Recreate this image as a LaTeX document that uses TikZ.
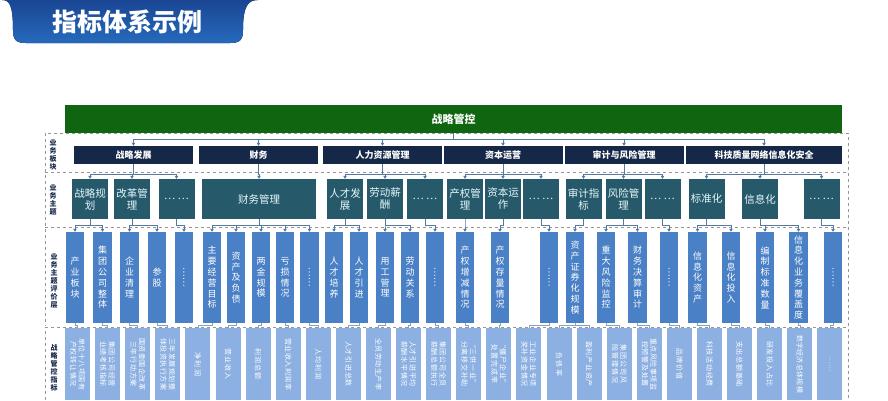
\documentclass[tikz,border=0pt]{standalone}
\usepackage{fontspec}
\setmainfont{Noto Sans CJK SC}
\usepackage{graphicx}
\usetikzlibrary{arrows.meta}
\XeTeXlinebreaklocale "zh"
\XeTeXlinebreakskip=0pt plus 1pt
\definecolor{bannertop}{RGB}{26,70,148}
\definecolor{bannerbot}{RGB}{38,106,188}
\definecolor{ctrlgreen}{RGB}{16,102,16}
\definecolor{sectnavy}{RGB}{22,40,72}
\definecolor{themeteal}{RGB}{38,90,106}
\definecolor{judgeblue}{RGB}{74,128,198}
\definecolor{metricblue}{RGB}{140,176,226}
\definecolor{linkblue}{RGB}{84,122,160}
\definecolor{framegray}{RGB}{150,150,150}
\begin{document}
\begin{tikzpicture}[x=1pt,y=-1pt,
    sector/.style={fill=sectnavy,text=white,minimum width=119,minimum height=18,
      inner sep=0,font=\fontsize{9}{10}\selectfont\bfseries},
    theme/.style={fill=themeteal,text=white!90!cyan,minimum width=36,minimum height=40,
      inner sep=0,align=center,font=\fontsize{10.5}{12}\selectfont},
    judge/.style={fill=judgeblue,text=white,minimum width=18.5,minimum height=91,
      inner sep=0,align=center,font=\fontsize{9}{10.8}\selectfont},
    metric/.style={fill=metricblue,text=white,rotate=-90,minimum width=72,minimum height=25,
      inner sep=0,text width=66,align=center,font=\fontsize{7}{8.5}\selectfont},
    rowlabel/.style={inner sep=0,align=center,text=sectnavy,
      font=\fontsize{7}{8}\selectfont\bfseries},
    frame/.style={draw=framegray,dashed,line width=0.6pt},
    split/.style={draw=framegray,dashed,line width=0.5pt,double=white,double distance=1pt},
    link/.style={draw=linkblue,line width=0.8pt,-{Triangle[length=3pt,width=3.5pt]}},
    tie/.style={draw=linkblue!70,line width=0.5pt}]
  \useasboundingbox (0,0) rectangle (888,400);
  \clip (0,0) rectangle (888,400);

  % title banner
  \fill[top color=bannertop,bottom color=bannerbot]
    (2,0) .. controls (9,0) and (13,4) .. (13,30)
    .. controls (13,40) and (16,43) .. (26,43) -- (230,43)
    .. controls (240,43) and (243,40) .. (243,30)
    .. controls (243,6) and (248,0) .. (258,0) -- cycle;
  \node[text=white,font=\fontsize{25}{25}\selectfont\bfseries] (title) at (127,22) {指标体系示例};

  % dashed frame and row splits
  \draw[frame] (45,133) rectangle (848,440);
  \draw[split] (45,173) -- (848,173);
  \draw[split] (45,228) -- (848,228);
  \draw[split] (45,326.5) -- (848,326.5);

  \node[rowlabel] (lab1) at (53,155) {业\\务\\板\\块};
  \node[rowlabel] (lab2) at (53,200) {业\\务\\主\\题};
  \node[rowlabel] (lab3) at (54,281) {业\\务\\主\\题\\评\\价\\层};
  \node[rowlabel] (lab4) at (54,368) {战\\略\\管\\控\\指\\标};

  % top
  \node[fill=ctrlgreen,text=white,minimum width=777,minimum height=28,inner sep=0,
    font=\fontsize{11}{12}\selectfont\bfseries] (ctrl) at (453.5,119) {战略管控};

  % business sectors
  \node[sector] (b1) at (133.5,155) {战略发展};
  \node[sector] (b2) at (258.5,155) {财务};
  \node[sector] (b3) at (382.5,155) {人力资源管理};
  \node[sector] (b4) at (503,155) {资本运营};
  \node[sector] (b5) at (624,155) {审计与风险管理};
  \node[sector,minimum width=156] (b6) at (764,155) {科技质量网络信息化安全};

  % business themes
  \node[theme] (t1) at (90,199) {战略规\\划};
  \node[theme] (t2) at (132,199) {改革管\\理};
  \node[theme] (t3) at (176.5,199) {… …};
  \node[theme,minimum width=114] (t4) at (259,199) {财务管理};
  \node[theme] (t5) at (345,199) {人才发\\展};
  \node[theme] (t6) at (385,199) {劳动薪\\酬};
  \node[theme] (t7) at (425,199) {… …};
  \node[theme] (t8) at (465,199) {产权管\\理};
  \node[theme] (t9) at (503,199) {资本运\\作};
  \node[theme] (t10) at (541,199) {… …};
  \node[theme] (t11) at (583.5,199) {审计指\\标};
  \node[theme] (t12) at (623.5,199) {风险管\\理};
  \node[theme] (t13) at (662.5,199) {… …};
  \node[theme] (t14) at (706.5,199) {标准化};
  \node[theme] (t15) at (760,199) {信息化};
  \node[theme] (t16) at (821.5,199) {… …};

  % evaluation layer
  \node[judge] (e1) at (75,277.5) {产\\业\\板\\块};
  \node[judge] (e2) at (102.5,277.5) {集\\团\\公\\司\\整\\体};
  \node[judge] (e3) at (129.5,277.5) {企\\业\\清\\理};
  \node[judge] (e4) at (157,277.5) {参\\股};
  \node[judge] (e5) at (184,277.5) {\rotatebox{-90}{……}};
  \node[judge] (e6) at (212,277.5) {主\\要\\经\\营\\目\\标};
  \node[judge] (e7) at (236,277.5) {资\\产\\及\\负\\债};
  \node[judge] (e8) at (261,277.5) {两\\金\\规\\模};
  \node[judge] (e9) at (285,277.5) {亏\\损\\情\\况};
  \node[judge] (e10) at (309.5,277.5) {\rotatebox{-90}{……}};
  \node[judge] (e11) at (334,277.5) {人\\才\\培\\养};
  \node[judge] (e12) at (359,277.5) {人\\才\\引\\进};
  \node[judge] (e13) at (385,277.5) {用\\工\\管\\理};
  \node[judge] (e14) at (410,277.5) {劳\\动\\关\\系};
  \node[judge] (e15) at (435,277.5) {\rotatebox{-90}{……}};
  \node[judge] (e16) at (465,277.5) {产\\权\\增\\减\\情\\况};
  \node[judge] (e17) at (500,277.5) {产\\权\\存\\量\\情\\况};
  \node[judge] (e18) at (549,277.5) {\rotatebox{-90}{……}};
  \node[judge] (e19) at (575,277.5) {资\\产\\证\\券\\化\\规\\模};
  \node[judge] (e20) at (606,277.5) {重\\大\\风\\险\\监\\控};
  \node[judge] (e21) at (637.5,277.5) {财\\务\\决\\算\\审\\计};
  \node[judge] (e22) at (669,277.5) {\rotatebox{-90}{……}};
  \node[judge] (e23) at (697.5,277.5) {信\\息\\化\\资\\产};
  \node[judge] (e24) at (731,277.5) {信\\息\\化\\投\\入};
  \node[judge] (e25) at (765,277.5) {编\\制\\标\\准\\数\\量};
  \node[judge] (e26) at (798.5,277.5) {信\\息\\化\\业\\务\\覆\\盖\\度};
  \node[judge] (e27) at (833,277.5) {\rotatebox{-90}{……}};

  % strategic control metrics (rotated, so west is the top end)
  \node[metric] (f1) at (77.5,364) {单位十八项国有产权转让情况};
  \node[metric] (f2) at (107.6,364) {集团公司经营业绩考核指标};
  \node[metric] (f3) at (137.7,364) {国资委国企改革三年行动方案};
  \node[metric] (f4) at (167.7,364) {三年发展规划整体投资执行方案};
  \node[metric] (f5) at (197.9,364) {净利润};
  \node[metric] (f6) at (228,364) {营业收入};
  \node[metric] (f7) at (258.1,364) {利润总额};
  \node[metric] (f8) at (288.2,364) {营业收入利润率};
  \node[metric] (f9) at (318.3,364) {人均利润};
  \node[metric] (f10) at (348.4,364) {人才引进总数};
  \node[metric] (f11) at (378.5,364) {全员劳动生产率};
  \node[metric] (f12) at (408.5,364) {人才引进平均薪酬水平情况};
  \node[metric] (f13) at (438.6,364) {集团公司全员薪酬总额执行};
  \node[metric] (f14) at (468.7,364) {“三供一业”分离移交补助};
  \node[metric] (f15) at (498.8,364) {“僵尸企业”处置完成率};
  \node[metric] (f16) at (528.9,364) {工业企业专项奖补资金情况};
  \node[metric] (f17) at (559,364) {负债率};
  \node[metric] (f18) at (589.1,364) {盈利产业资产};
  \node[metric] (f19) at (619.2,364) {集团公司风险管理情况};
  \node[metric] (f20) at (649.3,364) {重点风险事项监控预警及处置};
  \node[metric] (f21) at (679.4,364) {品牌价值};
  \node[metric] (f22) at (709.5,364) {科技活动经费};
  \node[metric] (f23) at (739.6,364) {支出总额基础};
  \node[metric] (f24) at (769.7,364) {研发投入占比};
  \node[metric] (f25) at (799.8,364) {数字经济总体规模};
  \node[metric] (f26) at (829.9,364) {……};

  % control -> sectors
  \begin{scope}[link]
    \draw (ctrl.south) -- ++(0,6) -| (b1.north);
    \draw (ctrl.south) -- ++(0,6) -| (b2.north);
    \draw (ctrl.south) -- ++(0,6) -| (b3.north);
    \draw (ctrl.south) -- ++(0,6) -| (b4.north);
    \draw (ctrl.south) -- ++(0,6) -| (b5.north);
    \draw (ctrl.south) -- ++(0,6) -| (b6.north);
  \end{scope}

  % sectors -> themes
  \begin{scope}[link]
    \draw (b1.south) -- ++(0,10) -| (t1.north);
    \draw (b1.south) -- ++(0,10) -| (t2.north);
    \draw (b1.south) -- ++(0,10) -| (t3.north);
    \draw (b2.south) -- ++(0,10) -| (t4.north);
    \draw (b3.south) -- ++(0,10) -| (t5.north);
    \draw (b3.south) -- ++(0,10) -| (t6.north);
    \draw (b3.south) -- ++(0,10) -| (t7.north);
    \draw (b4.south) -- ++(0,10) -| (t8.north);
    \draw (b4.south) -- ++(0,10) -| (t9.north);
    \draw (b4.south) -- ++(0,10) -| (t10.north);
    \draw (b5.south) -- ++(0,10) -| (t11.north);
    \draw (b5.south) -- ++(0,10) -| (t12.north);
    \draw (b5.south) -- ++(0,10) -| (t13.north);
    \draw (b6.south) -- ++(0,10) -| (t14.north);
    \draw (b6.south) -- ++(0,10) -| (t15.north);
    \draw (b6.south) -- ++(0,10) -| (t16.north);
  \end{scope}

  % themes -> evaluation
  \begin{scope}[link]
    \draw (t1.south) -- ++(0,6) -| (e1.north);
    \draw (t1.south) -- ++(0,6) -| (e2.north);
    \draw (t2.south) -- ++(0,6) -| (e3.north);
    \draw (t2.south) -- ++(0,6) -| (e4.north);
    \draw (t3.south) -- ++(0,6) -| (e5.north);
    \draw (t4.south) -- ++(0,6) -| (e6.north);
    \draw (t4.south) -- ++(0,6) -| (e7.north);
    \draw (t4.south) -- ++(0,6) -| (e8.north);
    \draw (t4.south) -- ++(0,6) -| (e9.north);
    \draw (t4.south) -- ++(0,6) -| (e10.north);
    \draw (t5.south) -- ++(0,6) -| (e11.north);
    \draw (t5.south) -- ++(0,6) -| (e12.north);
    \draw (t6.south) -- ++(0,6) -| (e13.north);
    \draw (t6.south) -- ++(0,6) -| (e14.north);
    \draw (t7.south) -- ++(0,6) -| (e15.north);
    \draw (t8.south) -- ++(0,6) -| (e16.north);
    \draw (t9.south) -- ++(0,6) -| (e17.north);
    \draw (t10.south) -- ++(0,6) -| (e18.north);
    \draw (t11.south) -- ++(0,6) -| (e19.north);
    \draw (t12.south) -- ++(0,6) -| (e20.north);
    \draw (t12.south) -- ++(0,6) -| (e21.north);
    \draw (t13.south) -- ++(0,6) -| (e22.north);
    \draw (t14.south) -- ++(0,6) -| (e23.north);
    \draw (t14.south) -- ++(0,6) -| (e24.north);
    \draw (t15.south) -- ++(0,6) -| (e25.north);
    \draw (t15.south) -- ++(0,6) -| (e26.north);
    \draw (t16.south) -- ++(0,6) -| (e27.north);
  \end{scope}

  % evaluation -> metrics
  \begin{scope}[tie]
    \draw (e1.south) -- ++(0,2.5) -| (f1.west);
    \draw (e2.south) -- ++(0,2.5) -| (f2.west);
    \draw (e3.south) -- ++(0,2.5) -| (f3.west);
    \draw (e4.south) -- ++(0,2.5) -| (f4.west);
    \draw (e6.south) -- ++(0,2.5) -| (f5.west);
    \draw (e7.south) -- ++(0,2.5) -| (f6.west);
    \draw (e8.south) -- ++(0,2.5) -| (f7.west);
    \draw (e9.south) -- ++(0,2.5) -| (f8.west);
    \draw (e10.south) -- ++(0,2.5) -| (f9.west);
    \draw (e12.south) -- ++(0,2.5) -| (f10.west);
    \draw (e13.south) -- ++(0,2.5) -| (f11.west);
    \draw (e14.south) -- ++(0,2.5) -| (f12.west);
    \draw (e15.south) -- ++(0,2.5) -| (f13.west);
    \draw (e16.south) -- ++(0,2.5) -| (f14.west);
    \draw (e17.south) -- ++(0,2.5) -| (f15.west);
    \draw (e18.south) -- ++(0,2.5) -| (f16.west);
    \draw (e19.south) -- ++(0,2.5) -| (f17.west);
    \draw (e19.south) -- ++(0,2.5) -| (f18.west);
    \draw (e20.south) -- ++(0,2.5) -| (f19.west);
    \draw (e21.south) -- ++(0,2.5) -| (f20.west);
    \draw (e22.south) -- ++(0,2.5) -| (f21.west);
    \draw (e23.south) -- ++(0,2.5) -| (f22.west);
    \draw (e24.south) -- ++(0,2.5) -| (f23.west);
    \draw (e25.south) -- ++(0,2.5) -| (f24.west);
    \draw (e26.south) -- ++(0,2.5) -| (f25.west);
    \draw (e27.south) -- ++(0,2.5) -| (f26.west);
  \end{scope}
\end{tikzpicture}
\end{document}
